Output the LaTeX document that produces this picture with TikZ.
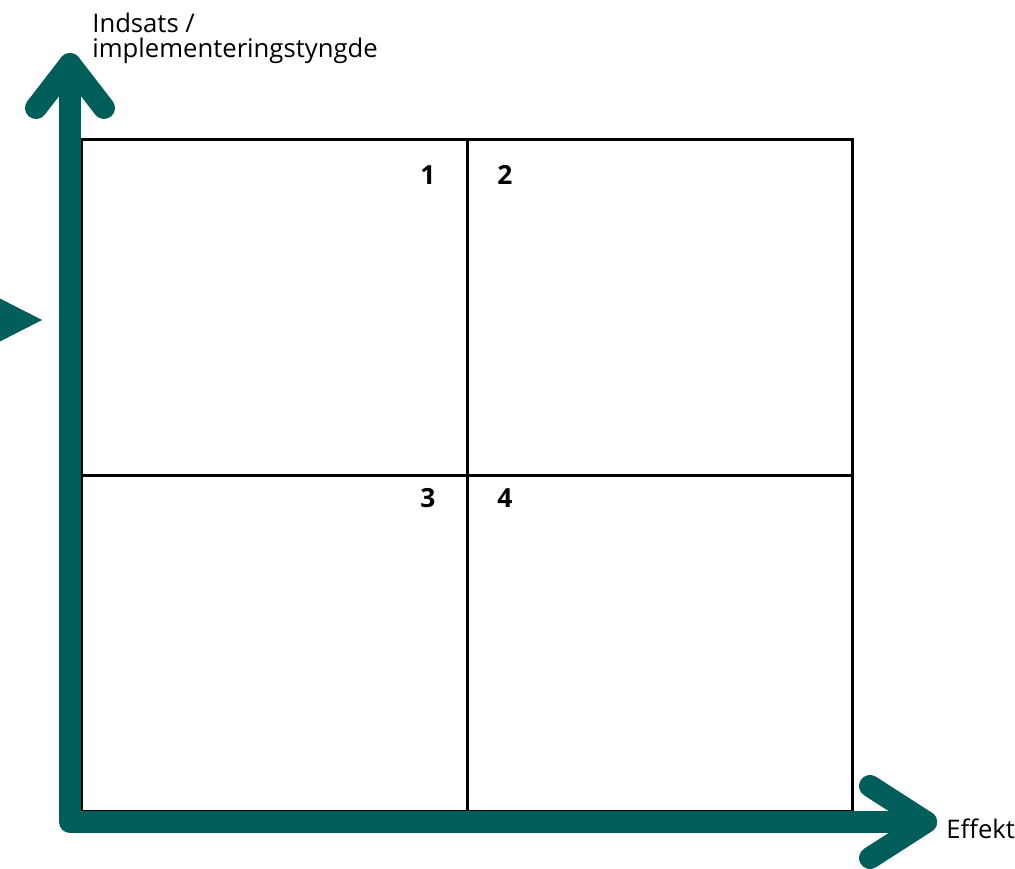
\documentclass[tikz,border=0pt]{standalone}
\usepackage{fontspec}
\setmainfont{Open Sans}
\definecolor{axisTeal}{RGB}{0,94,90}
\usetikzlibrary{positioning,calc}

\begin{document}
\begin{tikzpicture}[
  x=0.2mm, y=-0.2mm,
  quad/.style={draw, line width=0.6mm, outer sep=0pt, inner sep=0pt,
               minimum width=77mm, minimum height=67.1mm},
  qnum/.style={font=\fontsize{15}{16}\selectfont\bfseries, inner sep=0pt},
  axis/.style={draw=axisTeal, line width=4.4mm, line cap=round, line join=round},
  axislabel/.style={font=\fontsize{14.6}{14.2}\selectfont, inner sep=0pt, align=left}
]
  \useasboundingbox (0,0) rectangle (1015,869);

  \node[quad]                       (q1) at (274.5,307.75) {};
  \node[quad, right=0pt of q1]      (q2) {};
  \node[quad, below=0pt of q1]      (q3) {};
  \node[quad, right=0pt of q3]      (q4) {};

  \node[qnum] (n1) at ($(q1.north east)+(-39,35)$) {1};
  \node[qnum] (n2) at ($(q2.north west)+(38,35)$)  {2};
  \node[qnum] (n3) at ($(q3.north east)+(-39,23)$) {3};
  \node[qnum] (n4) at ($(q4.north west)+(38,23)$)  {4};

  \coordinate (org)  at (70,822);
  \coordinate (ytip) at (70,64);
  \coordinate (xtip) at (926,822);
  \coordinate (yl)   at (36,108);
  \coordinate (yr)   at (104,108);
  \coordinate (xu)   at (870,786);
  \coordinate (xd)   at (870,858);

  \path[axis] (ytip) -- (org) -- (xtip);
  \path[axis] (yl) -- (ytip) -- (yr);
  \path[axis] (xu) -- (xtip) -- (xd);

  \fill[axisTeal] (-3,297) -- (42,320) -- (-3,343) -- cycle;

  \node[axislabel, anchor=north west] (ylab) at (92,13) {Indsats /\\implementeringstyngde};
  \node[axislabel, anchor=base west]  (xlab) at (946,838) {Effekt};
\end{tikzpicture}
\end{document}
